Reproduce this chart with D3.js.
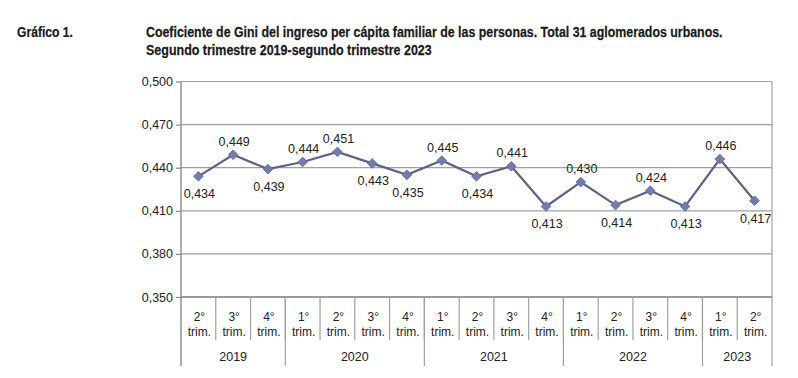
<!DOCTYPE html>
<html><head><meta charset="utf-8">
<script src="https://cdn.jsdelivr.net/npm/d3@7"></script>
<style>
html,body{margin:0;padding:0;background:#fff;}
svg{display:block;}
</style></head>
<body>
<svg id="chart" width="798" height="378"></svg>
<script>
const quarters = ["2°","3°","4°","1°","2°","3°","4°","1°","2°","3°","4°","1°","2°","3°","4°","1°","2°"];
const years = ["2019","2020","2021","2022","2023"];
const quartersPerYear = [3,4,4,4,2];
const gini = [0.434,0.449,0.439,0.444,0.451,0.443,0.435,0.445,0.434,0.441,0.413,0.430,0.414,0.424,0.413,0.446,0.417];
const yTicks = [0.350,0.380,0.410,0.440,0.470,0.500];
const titleLabel = "Gráfico 1.";
const titleLines = ["Coeficiente de Gini del ingreso per cápita familiar de las personas. Total 31 aglomerados urbanos.",
                    "Segundo trimestre 2019-segundo trimestre 2023"];

const svg = d3.select("#chart");
const L = 181, R = 772, T = 81.5, B = 297;
const fmt = v => d3.format(".3f")(v).replace(".", ",");
const idx = d3.range(gini.length);

const x = d3.scaleBand().domain(idx).range([L, R]).paddingInner(0).paddingOuter(0);
const y = d3.scaleLinear().domain([0.350, 0.500]).range([B, T]);

const titleFont = "'Liberation Sans Narrow','Arial Narrow','Liberation Sans',Arial,sans-serif";
function fitText(t, x0, y0, w) {
  const g = svg.append("g");
  const el = g.append("text").attr("x", 0).attr("y", 0).attr("font-family", titleFont)
    .attr("font-weight", "bold").attr("font-size", 15.5).attr("fill", "#1a1a1a")
    .attr("stroke", "#1a1a1a").attr("stroke-width", 0.25).text(t);
  const cur = el.node().getComputedTextLength();
  const sx = cur > 0 ? w / cur : 1;
  g.attr("transform", `translate(${x0},${y0}) scale(${sx},1)`);
}
fitText(titleLabel, 17, 37, 56);
fitText(titleLines[0], 146, 37, 577);
fitText(titleLines[1], 146, 55, 286);

const font = "'Liberation Sans',Arial,sans-serif";

// gridlines
svg.append("g").selectAll("line").data(yTicks).join("line")
  .attr("x1", L).attr("x2", R).attr("y1", d => y(d)).attr("y2", d => y(d))
  .attr("stroke", "#a0a0a0").attr("stroke-width", 1.2);
// right border
svg.append("line").attr("x1", R).attr("x2", R).attr("y1", T).attr("y2", 366)
  .attr("stroke", "#a0a0a0").attr("stroke-width", 1.2);

// y axis
const yAxis = d3.axisLeft(y).tickValues(yTicks).tickFormat(fmt).tickSize(5).tickPadding(3);
const gy = svg.append("g").attr("transform", `translate(${L},0)`).call(yAxis);
gy.select(".domain").remove();
gy.selectAll(".tick line").attr("stroke", "#888").attr("stroke-width", 1.2);
gy.selectAll(".tick text").attr("font-family", font).attr("font-size", 12.5).attr("fill", "#222");
svg.append("line").attr("x1", L).attr("x2", L).attr("y1", T).attr("y2", 366)
  .attr("stroke", "#8a8a8a").attr("stroke-width", 1.4);
svg.append("line").attr("x1", L).attr("x2", R).attr("y1", B).attr("y2", B)
  .attr("stroke", "#8a8a8a").attr("stroke-width", 1.6);

// category separators
const gCat = svg.append("g");
gCat.selectAll("line").data(idx.slice(1)).join("line")
  .attr("x1", d => x(d)).attr("x2", d => x(d)).attr("y1", B).attr("y2", 340)
  .attr("stroke", "#a0a0a0").attr("stroke-width", 1.2);
const qText = gCat.selectAll("text.q").data(idx).join("text").attr("class", "q")
  .attr("font-family", font).attr("font-size", 12).attr("fill", "#222").attr("text-anchor", "middle");
qText.append("tspan").attr("x", d => x(d) + x.bandwidth() / 2 + 1).attr("y", 321).text(d => quarters[d]);
qText.append("tspan").attr("x", d => x(d) + x.bandwidth() / 2 + 1).attr("y", 336).text("trim.");

// year groups
let start = 0;
const yearSpans = years.map((yr, i) => { const s = start; start += quartersPerYear[i]; return {yr, s, e: start}; });
svg.append("g").selectAll("line").data(yearSpans.slice(1)).join("line")
  .attr("x1", d => x(d.s)).attr("x2", d => x(d.s)).attr("y1", B).attr("y2", 366)
  .attr("stroke", "#a0a0a0").attr("stroke-width", 1.2);
svg.append("g").selectAll("text").data(yearSpans).join("text")
  .attr("x", d => (x(d.s) + (d.e < gini.length ? x(d.e) : R)) / 2)
  .attr("y", 361).attr("text-anchor", "middle")
  .attr("font-family", font).attr("font-size", 12.5).attr("fill", "#222").text(d => d.yr);

// line
const cx = i => x(i) + x.bandwidth() / 2;
svg.append("path").datum(idx)
  .attr("d", d3.line().x(cx).y(i => y(gini[i])))
  .attr("fill", "none").attr("stroke", "#5f6088").attr("stroke-width", 2.2);
svg.append("g").selectAll("path").data(idx).join("path")
  .attr("transform", i => `translate(${cx(i)},${y(gini[i])})`)
  .attr("d", d3.symbol(d3.symbolDiamond2, 60))
  .attr("fill", "#737cae").attr("stroke", "#5f6594").attr("stroke-width", 0.8);

// value labels
svg.append("g").selectAll("text").data(idx).join("text")
  .attr("x", i => cx(i) + 1)
  .attr("y", i => {
    const above = i > 0 && gini[i] >= gini[i - 1];
    return y(gini[i]) + (above ? -9 : 22);
  })
  .attr("text-anchor", "middle").attr("font-family", font).attr("font-size", 12.5).attr("fill", "#222")
  .text(i => fmt(gini[i]));
</script>
</body></html>
